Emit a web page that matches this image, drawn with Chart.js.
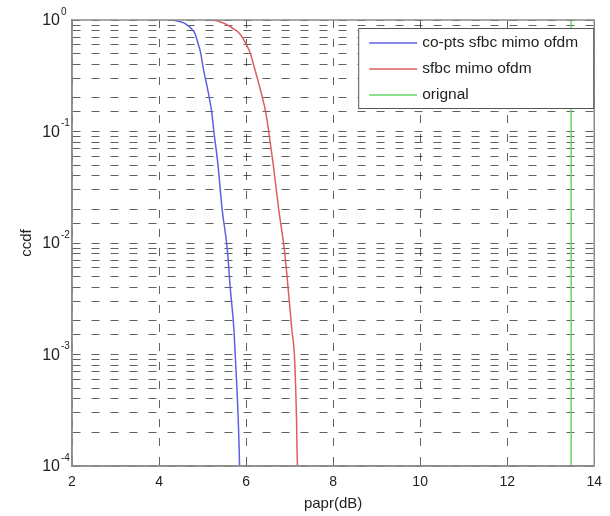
<!DOCTYPE html>
<html>
<head>
<meta charset="utf-8">
<script src="https://cdn.jsdelivr.net/npm/chart.js@4.4.0/dist/chart.umd.min.js"></script>
<style>
body { margin: 0; background: #fff; }
#wrap { width: 610px; height: 516px; }
</style>
</head>
<body>
<div id="wrap"><canvas id="c"></canvas></div>
<script>
// values
var seriesNames = ['co-pts sfbc mimo ofdm', 'sfbc mimo ofdm', 'orignal'];

var bluePapr = [4.31, 4.47, 4.62, 4.75, 4.83, 4.90, 4.96, 5.00, 5.04, 5.09, 5.15, 5.21, 5.26, 5.35, 5.45, 5.57, 5.64, 5.72, 5.75, 5.79, 5.82, 5.84, 5.85];
var blueCcdf = [1, 0.97, 0.92, 0.83, 0.75, 0.61, 0.5, 0.4, 0.33, 0.27, 0.205, 0.15, 0.1, 0.052, 0.02, 0.0087, 0.0038, 0.0017, 0.001, 0.0005, 0.00026, 0.00015, 0.0001];

var redPapr = [5.15, 5.35, 5.53, 5.72, 5.86, 6.00, 6.10, 6.17, 6.23, 6.29, 6.37, 6.45, 6.52, 6.62, 6.75, 6.88, 6.97, 7.05, 7.11, 7.14, 7.16, 7.17, 7.18];
var redCcdf = [1, 0.98, 0.92, 0.83, 0.75, 0.61, 0.5, 0.4, 0.33, 0.27, 0.205, 0.15, 0.1, 0.052, 0.02, 0.0087, 0.0038, 0.0017, 0.001, 0.0005, 0.00026, 0.00015, 0.0001];

var greenPapr = [13.47, 13.47];
var greenCcdf = [1, 0.0001];

var xTicks = [2, 4, 6, 8, 10, 12, 14];

function toPoints(xs, ys) {
	var pts = [];
	for (var i = 0; i < xs.length; i++) pts.push({x: xs[i], y: ys[i]});
	return pts;
}

// y labels as 10 with a raised exponent, one per decade tick of the log scale
var decadeLabels = {
	id: 'decadeLabels',
	afterDraw: function(chart) {
		var ys = chart.scales.y;
		var ctx = chart.ctx;
		ctx.save();
		ctx.fillStyle = '#222';
		ctx.textBaseline = 'middle';
		ys.ticks.forEach(function(t) {
			var e = Math.log10(t.value);
			var r = Math.round(e);
			if (Math.abs(e - r) > 1e-6) return;
			var py = ys.getPixelForValue(t.value);
			ctx.font = '16px "Liberation Sans", Arial, sans-serif';
			ctx.textAlign = 'right';
			ctx.fillText('10', ys.right - 12, py + 1);
			ctx.font = '10px "Liberation Sans", Arial, sans-serif';
			ctx.textAlign = 'left';
			ctx.fillText(String(r), ys.right - 11, py - 8);
		});
		ctx.restore();
	}
};

// box round the plot and the legend, drawn over the lines
var boxAndLegend = {
	id: 'boxAndLegend',
	afterDatasetsDraw: function(chart) {
		var ctx = chart.ctx;
		var ca = chart.chartArea;
		ctx.save();
		ctx.strokeStyle = '#8c8c8c';
		ctx.lineWidth = 1.5;
		ctx.setLineDash([]);
		ctx.strokeRect(ca.left, ca.top, ca.right - ca.left, ca.bottom - ca.top);

		var w = 235, h = 80;
		var x0 = ca.right - w - 1, y0 = ca.top + 8;
		ctx.fillStyle = '#fff';
		ctx.fillRect(x0, y0, w, h);
		ctx.strokeStyle = '#555';
		ctx.lineWidth = 1;
		ctx.strokeRect(x0 + 0.5, y0 + 0.5, w, h);

		ctx.font = '15.5px "Liberation Sans", Arial, sans-serif';
		ctx.textBaseline = 'middle';
		ctx.textAlign = 'left';
		var ds = chart.data.datasets;
		for (var i = 0; i < ds.length; i++) {
			var ry = y0 + 15 + i * 26;
			ctx.strokeStyle = ds[i].borderColor;
			ctx.lineWidth = 1.5;
			ctx.beginPath();
			ctx.moveTo(x0 + 11, ry);
			ctx.lineTo(x0 + 59, ry);
			ctx.stroke();
			ctx.fillStyle = '#222';
			ctx.fillText(ds[i].label, x0 + 64, ry);
		}
		ctx.restore();
	}
};

var gridDash = [8, 11];

var ctx = document.getElementById('c');
var chart = new Chart(ctx, {
	type: 'line',
	data: {
		datasets: [
			{ label: seriesNames[0], data: toPoints(bluePapr, blueCcdf), borderColor: 'rgb(95,95,225)', borderWidth: 1.5 },
			{ label: seriesNames[1], data: toPoints(redPapr, redCcdf), borderColor: 'rgb(220,95,95)', borderWidth: 1.5 },
			{ label: seriesNames[2], data: toPoints(greenPapr, greenCcdf), borderColor: 'rgb(100,215,100)', borderWidth: 1.5 }
		]
	},
	options: {
		responsive: true,
		maintainAspectRatio: false,
		animation: false,
		elements: { point: { radius: 0 }, line: { cubicInterpolationMode: 'monotone' } },
		layout: { padding: { left: 0, right: 12, top: 20, bottom: 0 } },
		plugins: { legend: { display: false }, tooltip: { enabled: false } },
		scales: {
			x: {
				type: 'linear',
				min: 2,
				max: 14,
				afterBuildTicks: function(scale) {
					scale.ticks = xTicks.map(function(v) { return {value: v}; });
				},
				afterFit: function(scale) { scale.height = 50; },
				ticks: { font: { size: 14, family: '"Liberation Sans", Arial' }, color: '#222', padding: 8 },
				grid: { color: 'rgba(0,0,0,0.62)', lineWidth: 1, drawTicks: false },
				border: { color: '#8c8c8c', width: 1.5, dash: gridDash },
				title: { display: true, text: 'papr(dB)', color: '#222', font: { size: 15, family: '"Liberation Sans", Arial' }, padding: { top: 0, bottom: 3 } }
			},
			y: {
				type: 'logarithmic',
				min: 0.0001,
				max: 1,
				afterFit: function(scale) { scale.width = 72; },
				ticks: { autoSkip: false, display: false },
				grid: { color: 'rgba(0,0,0,0.62)', lineWidth: 1, drawTicks: false },
				border: { color: '#8c8c8c', width: 1.5, dash: gridDash },
				title: { display: true, text: 'ccdf', color: '#222', font: { size: 15, family: '"Liberation Sans", Arial' }, padding: { top: 18, bottom: 0 } }
			}
		}
	},
	plugins: [boxAndLegend, decadeLabels]
});
</script>
</body>
</html>
